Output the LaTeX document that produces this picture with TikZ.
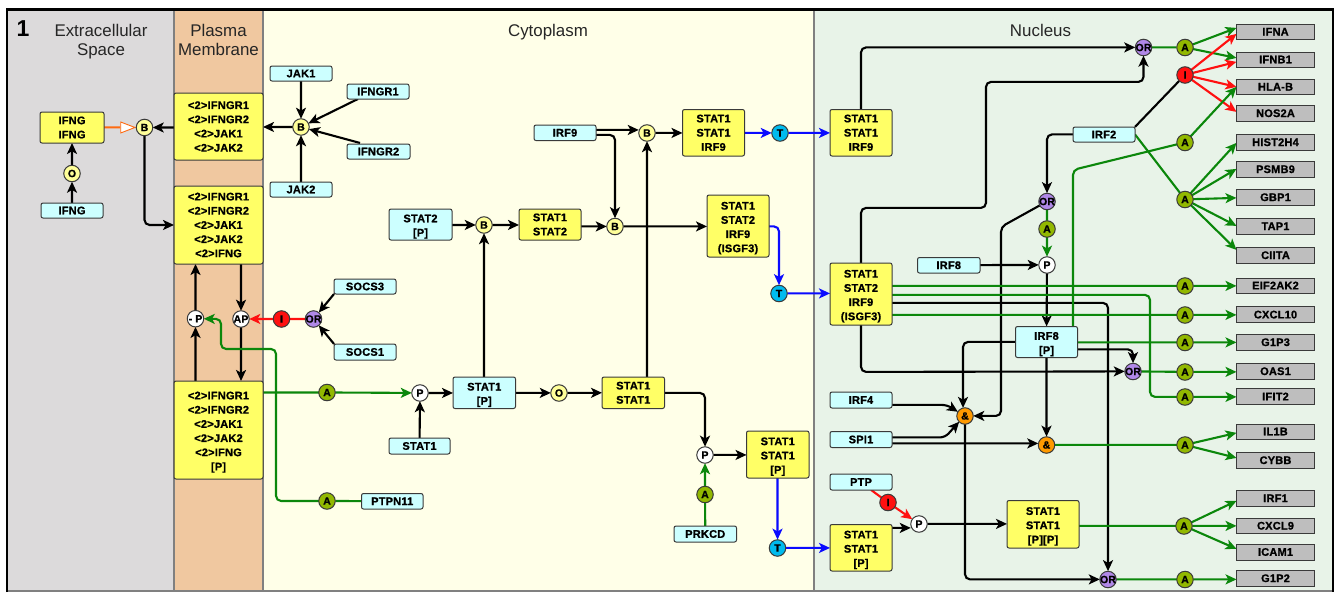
\documentclass[tikz,border=0pt]{standalone}
\usepackage{fontspec}
\setmainfont{Liberation Sans}
\newfontfamily\lab[LetterSpace=2,FakeBold=1]{Liberation Sans Bold}
\usetikzlibrary{arrows.meta}
\definecolor{pgrey}{HTML}{DCDADB}
\definecolor{porange}{HTML}{F0C8A0}
\definecolor{pcream}{HTML}{FFFFE8}
\definecolor{pgreen}{HTML}{E8F3E8}
\definecolor{edge}{HTML}{3A3A3A}
\definecolor{cyel}{HTML}{FFFF66}
\definecolor{cblue}{HTML}{CCFFFF}
\definecolor{cgene}{HTML}{BEBEBE}
\definecolor{cb}{HTML}{FFFF99}
\definecolor{ca}{HTML}{92B800}
\definecolor{cor}{HTML}{B088E8}
\definecolor{camp}{HTML}{FF9900}
\definecolor{ct}{HTML}{00BBEE}
\definecolor{lgreen}{HTML}{0B870B}
\definecolor{lblue}{HTML}{0A0AFF}
\definecolor{lred}{HTML}{FF1010}
\definecolor{lorange}{HTML}{FF6A10}
\pgfdeclarelayer{panels}
\pgfdeclarelayer{conn}
\pgfsetlayers{panels,conn,main}
\tikzset{
  boxbase/.style={draw=edge,line width=1pt,inner sep=0pt,outer sep=0pt,align=center,text=black,
     font={\lab\fontsize{11}{14.2}\selectfont}},
  cplx/.style={boxbase,rounded corners=2pt,fill=cyel},
  prot/.style={boxbase,rounded corners=2pt,fill=cblue},
  gene/.style={boxbase,fill=cgene},
  opn/.style={circle,draw=edge,line width=1pt,minimum size=16.5pt,inner sep=0pt,outer sep=0pt,text=black,
     font={\lab\fontsize{10.5}{12}\selectfont}},
  opb/.style={opn,fill=cb},
  opa/.style={opn,fill=ca},
  opi/.style={opn,fill=lred},
  opor/.style={opn,fill=cor},
  opw/.style={opn,fill=white},
  opamp/.style={opn,fill=camp},
  opt/.style={opn,fill=ct},
  tip/.style={-{Stealth[length=11pt,width=10pt,inset=2.8pt]}},
  lk/.style={draw=black,line width=2.1pt,rounded corners=5pt},
  lkg/.style={draw=lgreen,line width=2.1pt,rounded corners=5pt},
  lkb/.style={draw=lblue,line width=2.1pt,rounded corners=5pt},
  lkr/.style={draw=lred,line width=2.1pt,rounded corners=5pt},
  title/.style={inner sep=0pt,align=center,text=black!85,font={\fontsize{16.9}{19}\selectfont}},
}
\newcommand{\bx}[7]{%
  \pgfmathsetmacro\bxcx{(#3+#5)/2}\pgfmathsetmacro\bxcy{(#4+#6)/2}%
  \pgfmathsetmacro\bxw{#5-#3}\pgfmathsetmacro\bxh{#6-#4}%
  \node[#2,minimum width=\bxw pt,minimum height=\bxh pt] (#1) at (\bxcx,\bxcy) {#7};}
\newcommand{\gn}[4]{\bx{#1}{gene}{1236.5}{#2}{1314.5}{#3}{#4}}
\newcommand{\op}[5]{\node[#2] (#1) at (#3,#4) {\makebox[0pt][c]{#5}};}
\newcommand{\dn}{\rule{0pt}{12pt}}
\begin{document}
\begin{tikzpicture}[x=1pt,y=-1pt]
\useasboundingbox (0,0) rectangle (1334,592);
% panels
\begin{pgfonlayer}{panels}
\fill[white] (0,0) rectangle (1334,592);
\fill[pgrey] (8,10) rectangle (174,592);
\fill[porange] (174,10) rectangle (263,592);
\fill[pcream] (263,10) rectangle (814,592);
\fill[pgreen] (814,10) rectangle (1333,592);
\draw[draw=gray,line width=1.3pt] (174,10) -- (174,592) (263,10) -- (263,592) (814,10) -- (814,592);
\draw[gray,line width=1.5pt] (7,591.2) -- (1333,591.2);
\draw[black,line width=2.4pt] (7.2,592) -- (7.2,9.5) -- (1333,9.5) -- (1333,592);
\end{pgfonlayer}
% titles
\node[title,font={\bfseries\fontsize{23}{25}\selectfont},text=black] (one) at (23,29) {1};
\node[title] (tes) at (101,42) {Extracellular\\Space};
\node[title] (tpm) at (218.5,40) {Plasma\\Membrane};
\node[title] (tcy) at (548,32.5) {Cytoplasm};
\node[title] (tnu) at (1040.5,30.5) {Nucleus};
% left side
\bx{ifngd}{cplx}{40}{112}{104}{143}{IFNG\\IFNG}
\op{oa}{opb}{72}{173.5}{O}
\bx{ifng}{prot}{41}{203}{103}{218}{IFNG}
\op{b1}{opb}{144.5}{127.5}{B}
\bx{c1}{cplx}{174}{93}{263}{160}{<2>IFNGR1\\<2>IFNGR2\\<2>JAK1\\<2>JAK2}
\bx{c2}{cplx}{174}{186}{263}{264}{<2>IFNGR1\\<2>IFNGR2\\<2>JAK1\\<2>JAK2\\<2>IFNG}
\bx{c3}{cplx}{174}{381}{263}{479}{\dn<2>IFNGR1\\<2>IFNGR2\\<2>JAK1\\<2>JAK2\\<2>IFNG\\{}[P]}
\op{b2}{opb}{301}{127}{B}
\bx{jak1}{prot}{270}{66}{332}{81}{JAK1}
\bx{gr1}{prot}{347}{84}{409}{99}{IFNGR1}
\bx{gr2}{prot}{347}{144}{410}{159}{IFNGR2}
\bx{jak2}{prot}{270}{182}{332}{197}{JAK2}
\bx{socs3}{prot}{334}{279}{396}{294}{SOCS3}
\bx{socs1}{prot}{334}{344}{396}{360}{SOCS1}
\op{mp}{opw}{195.5}{318.7}{- P}
\op{ap}{opw}{241}{319}{AP}
\op{i1}{opi}{281.5}{319}{I}
\op{or1}{opor}{313.5}{319}{OR}
\op{a1}{opa}{327}{392.5}{A}
\op{a2}{opa}{327}{501}{A}
\bx{ptpn}{prot}{361.5}{493.5}{423}{509}{PTPN11}
\op{p1}{opw}{420}{393}{P}
\bx{st1}{prot}{389}{438}{450}{454}{STAT1}
\bx{st1p}{prot}{453}{377}{515.5}{408.5}{\dn STAT1\\{}[P]}
\op{o2}{opb}{559}{393}{O}
\bx{s11}{cplx}{602}{377}{664.5}{408.5}{STAT1\\STAT1}
\op{p2}{opw}{705}{455}{P}
\bx{s11p}{cplx}{746.5}{431}{809}{478}{\dn STAT1\\STAT1\\{}[P]}
\op{a3}{opa}{705}{494.5}{A}
\bx{prkcd}{prot}{674}{526}{736.5}{542}{PRKCD}
\op{t3}{opt}{777.5}{548}{T}
\bx{st2p}{prot}{389}{209}{452}{240}{\dn STAT2\\{}[P]}
\op{b3}{opb}{484}{225}{B}
\bx{s12}{cplx}{519}{209}{581}{240}{STAT1\\STAT2}
\op{b4}{opb}{615}{226.5}{B}
\bx{irf9}{prot}{534}{125}{596}{140.5}{IRF9}
\op{b5}{opb}{647}{133}{B}
\bx{s119}{cplx}{682.5}{109.5}{744.5}{156}{STAT1\\STAT1\\IRF9}
\op{t1}{opt}{780}{133}{T}
\bx{isg}{cplx}{707}{195}{769}{257}{\dn STAT1\\STAT2\\IRF9\\(ISGF3)}
\op{t2}{opt}{779}{293.5}{T}
% nucleus
\bx{n1}{cplx}{830}{109.5}{892}{156}{STAT1\\STAT1\\IRF9}
\bx{n2}{cplx}{830}{263}{892}{325}{\dn STAT1\\STAT2\\IRF9\\(ISGF3)}
\bx{n3}{cplx}{830}{524.5}{892}{571}{\dn STAT1\\STAT1\\{}[P]}
\bx{n4}{cplx}{1007}{500.5}{1079}{548}{\dn STAT1\\STAT1\\{}[P][P]}
\bx{irf2}{prot}{1073}{127}{1135}{142}{IRF2}
\bx{irf8}{prot}{917.5}{257.5}{980}{273}{IRF8}
\bx{ip}{prot}{1015.5}{326.5}{1077.5}{357.5}{\dn IRF8\\{}[P]}
\bx{irf4}{prot}{830}{392}{892}{408}{IRF4}
\bx{spi1}{prot}{830}{431.5}{892}{447.5}{SPI1}
\bx{ptp}{prot}{830}{474}{892}{490}{PTP}
\op{or2}{opor}{1143.5}{47.5}{OR}
\op{or5}{opor}{1047}{201.5}{OR}
\op{or3}{opor}{1133}{371.5}{OR}
\op{or4}{opor}{1108}{579.5}{OR}
\op{i2}{opi}{1185}{75}{I}
\op{i3}{opi}{888}{502.5}{I}
\op{p3}{opw}{1047}{265}{P}
\op{p4}{opw}{919}{524}{P}
\op{amp1}{opamp}{965}{416}{\&}
\op{amp2}{opamp}{1046.5}{445}{\&}
\op{aa}{opa}{1185}{47.5}{A}
\op{ab}{opa}{1185}{142.5}{A}
\op{ac}{opa}{1185}{199.5}{A}
\op{ad}{opa}{1047}{229}{A}
\op{ae}{opa}{1185}{286}{A}
\op{af}{opa}{1185}{315}{A}
\op{ag}{opa}{1185}{342.5}{A}
\op{ah}{opa}{1185}{372}{A}
\op{ai}{opa}{1185}{397}{A}
\op{aj}{opa}{1185}{445}{A}
\op{ak}{opa}{1184}{526}{A}
\op{al}{opa}{1185}{579.5}{A}
% genes
\gn{ifna}{24}{39.5}{IFNA}
\gn{ifnb}{52}{67}{IFNB1}
\gn{hla}{79}{94.5}{HLA-B}
\gn{nos}{105.5}{121}{NOS2A}
\gn{hist}{134.5}{150}{HIST2H4}
\gn{psmb}{161.5}{177}{PSMB9}
\gn{gbp}{189.5}{205}{GBP1}
\gn{tap}{218.5}{234}{TAP1}
\gn{ciita}{247.5}{263}{CIITA}
\gn{eif}{278}{293}{EIF2AK2}
\gn{cxcl10}{306.7}{322.5}{CXCL10}
\gn{g3}{334.5}{350}{G1P3}
\gn{oas}{363.5}{379}{OAS1}
\gn{ifit}{388.5}{404.5}{IFIT2}
\gn{il1b}{424}{439}{IL1B}
\gn{cybb}{452.5}{468}{CYBB}
\gn{irf1}{490.5}{506}{IRF1}
\gn{cxcl9}{518}{533.5}{CXCL9}
\gn{icam}{544}{560}{ICAM1}
\gn{g2}{570.5}{586}{G1P2}
% connectors
\begin{pgfonlayer}{conn}
\begin{scope}[transform canvas={rotate=0.006}]
% extracellular
\draw[lk,tip] (ifng) -- (oa);
\draw[lk,tip] (oa) -- (ifngd);
\draw[draw=lorange,line width=2pt,-{Triangle[length=16pt,width=12pt,fill=white,line width=0.9pt]}] (ifngd) -- (b1);
\draw[lk,tip] (c1.west |- b1) -- (b1);
\draw[lk,tip] (b1) -- (144.5,225) -- (c2.west |- 0,225);
\draw[lk,tip] (b2) -- (c1.east |- b2);
\draw[lk,tip] (jak1) -- (b2);
\draw[lk,tip] (358,99) -- (b2);
\draw[lk,tip] (360,143) -- (b2);
\draw[lk,tip] (jak2) -- (b2);
% membrane
\draw[lk,tip] (c3.north -| mp) -- (mp);
\draw[lk,tip] (mp) -- (c2.south -| mp);
\draw[lk,tip] (c2.south -| ap) -- (ap);
\draw[lk,tip] (ap) -- (c3.north -| ap);
\draw[lkr,tip] (i1) -- (ap);
\draw[lkr] (or1) -- (i1);
\draw[lk,tip] (socs3.south west) -- (or1);
\draw[lk,tip] (socs1.north west) -- (or1);
\draw[lkg] (ptpn) -- (a2);
\draw[lkg,tip] (a2) -- (276,501) -- (276,349) -- (221,349) -- (221,319) -- (mp);
\draw[lkg] (c3.east |- a1) -- (a1);
\draw[lkg,tip] (a1) -- (p1);
\draw[lk,tip] (st1) -- (p1);
\draw[lk,tip] (p1) -- (st1p.west |- p1);
\draw[lk,tip] (st1p.north -| b3) -- (b3);
\draw[lk,tip] (st2p.east |- b3) -- (b3);
\draw[lk,tip] (b3) -- (s12.west |- b3);
\draw[lk,tip] (s12.east |- b4) -- (b4);
\draw[lk,tip] (st1p) -- (o2);
\draw[lk,tip] (o2) -- (s11);
\draw[lk,tip] (s11.north -| b5) -- (b5);
\draw[lk,tip] (s11.east |- o2) -- (705,393) -- (p2);
\draw[lk,tip] (p2) -- (s11p.west |- p2);
\draw[lkg,tip] (a3) -- (p2);
\draw[lkg] (prkcd) -- (a3);
\draw[lk,tip] (irf9.east |- 0,130) -- (b5.west |- 0,130);
\draw[lk,tip] (irf9.east |- 0,135) -- (615,135) -- (b4);
\draw[lk,tip] (b5) -- (s119.west |- b5);
\draw[lkb,tip] (s119.east |- t1) -- (t1);
\draw[lkb,tip] (t1) -- (n1.west |- t1);
\draw[lk,tip] (b4) -- (isg.west |- b4);
\draw[lkb,tip] (isg.east |- b4) -- (779,226.5) -- (t2);
\draw[lkb,tip] (t2) -- (n2.west |- t2);
\draw[lkb,tip] (s11p.south -| t3) -- (t3);
\draw[lkb,tip] (t3) -- (n3.west |- t3);
% nucleus black
\draw[lk,tip] (n1.north) -- (861,47.5) -- (or2);
\draw[lk,tip] (n2.north) -- (861,208) -- (986,208) -- (986,82) -- (1143.5,82) -- (or2);
\draw[lk,tip] (n2.south) -- (861,372) -- (or3);
\draw[lk,tip] (n2.east |- 0,303) -- (1108,303) -- (or4);
\draw[lk,tip] (irf2.west) -- (1047,134.5) -- (or5);
\draw[lk] (irf2.north east) -- (i2);
\draw[lk,tip] (or5) -- (1001,227) -- (1001,416) -- (amp1);
\draw[lk,tip] (irf8) -- (p3);
\draw[lk,tip] (p3) -- (ip);
\draw[lk,tip] (ip.west) -- (963,342) -- (963,408);
\draw[lk,tip] (ip) -- (amp2);
\draw[lk,tip] (ip.east |- 0,349.5) -- (1133,349.5) -- (or3);
\draw[lk,tip] (irf4.east |- 0,405) -- (947,405) -- (amp1.150);
\draw[lk,tip] (spi1.east |- 0,437.5) -- (945,437.5) -- (amp1.225);
\draw[lk,tip] (spi1.east |- 0,443.5) -- (amp2.west |- 0,443.5);
\draw[lk,tip] (amp1) -- (965,579.5) -- (or4);
\draw[lk,tip] (n3.east |- 0,528) -- (p4.west |- 0,528);
\draw[lk,tip] (p4) -- (n4.west |- p4);
\draw[lkr] (ptp.south -| 871,0) -- (i3);
\draw[lkr,tip] (i3) -- (p4);
% nucleus green
\draw[lkg] (or2) -- (aa);
\draw[lkg,tip] (aa) -- (ifna.west |- 0,28);
\draw[lkg,tip] (aa) -- (ifnb.west |- 0,58);
\draw[lkr,tip] (i2) -- (ifna.west |- 0,34);
\draw[lkr,tip] (i2) -- (ifnb.west |- 0,62);
\draw[lkr,tip] (i2) -- (hla.west |- 0,87);
\draw[lkr,tip] (i2) -- (nos.west |- 0,112);
\draw[lkg] (ip.north -| 1073,0) -- (1073,170) -- (ab);
\draw[lkg,tip] (ab) -- (hla.west |- 0,87);
\draw[lkg] (irf2.east) -- (ac);
\draw[lkg,tip] (ac) -- (hist.west |- 0,143);
\draw[lkg,tip] (ac) -- (psmb.west |- 0,169);
\draw[lkg,tip] (ac) -- (gbp.west |- 0,198);
\draw[lkg,tip] (ac) -- (tap.west |- 0,226);
\draw[lkg,tip] (ac) -- (ciita.west |- 0,250);
\draw[lkg] (or5) -- (ad);
\draw[lkg,tip] (ad) -- (p3);
\draw[lkg] (n2.east |- ae) -- (ae);
\draw[lkg,tip] (ae) -- (eif.west |- ae);
\draw[lkg] (n2.east |- 0,295) -- (1150,295) -- (1150,397) -- (ai);
\draw[lkg,tip] (ai) -- (ifit.west |- ai);
\draw[lkg] (n2.east |- af) -- (af);
\draw[lkg,tip] (af) -- (cxcl10.west |- af);
\draw[lkg] (ip.east |- ag) -- (ag);
\draw[lkg,tip] (ag) -- (g3.west |- ag);
\draw[lkg] (or3) -- (ah);
\draw[lkg,tip] (ah) -- (oas.west |- ah);
\draw[lkg] (amp2) -- (aj);
\draw[lkg,tip] (aj) -- (il1b.west |- 0,433);
\draw[lkg,tip] (aj) -- (cybb.west |- 0,458);
\draw[lkg] (n4.east |- ak) -- (ak);
\draw[lkg,tip] (ak) -- (irf1.west |- 0,501);
\draw[lkg,tip] (ak) -- (cxcl9.west |- ak);
\draw[lkg,tip] (ak) -- (icam.west |- 0,549);
\draw[lkg] (or4) -- (al);
\draw[lkg,tip] (al) -- (g2.west |- al);
\end{scope}
\end{pgfonlayer}
\end{tikzpicture}
\end{document}
